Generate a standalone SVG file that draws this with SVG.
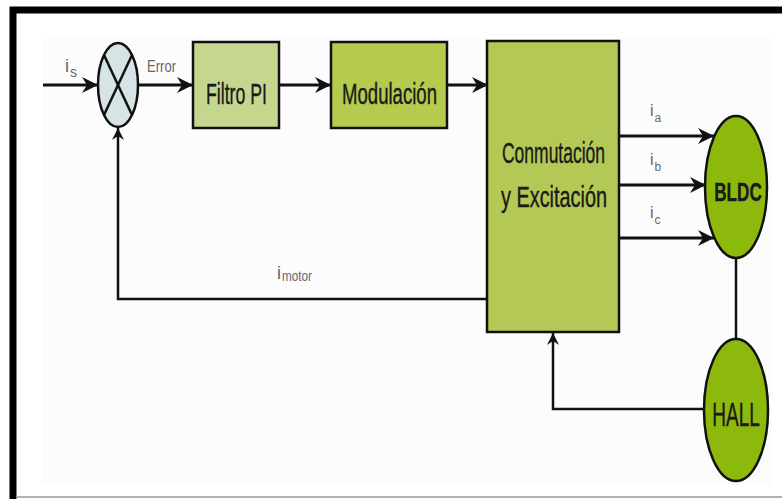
<svg xmlns="http://www.w3.org/2000/svg" width="782" height="499" viewBox="0 0 782 499">
<style>
.box{stroke:#111;stroke-width:2.5}
.line{fill:none;stroke:#111;stroke-width:3}
.fb{fill:none;stroke:#111;stroke-width:2.5}
.t{font-family:"Liberation Sans",Arial,sans-serif;fill:#1a1a1a;stroke:#1a1a1a;stroke-width:0.4}
.lbl{font-family:"Liberation Sans",Arial,sans-serif;fill:#666}
</style>
<defs>
<marker id="arr" viewBox="0 0 16 16" refX="16" refY="8" markerWidth="16" markerHeight="16" markerUnits="userSpaceOnUse" orient="auto">
<path d="M0,0 L16,8 L0,16 L5,8 z" fill="#111"/>
</marker>
<marker id="arrs" viewBox="0 0 12 12" refX="12" refY="6" markerWidth="12" markerHeight="12" markerUnits="userSpaceOnUse" orient="auto">
<path d="M0,0 L12,6 L0,12 L4,6 z" fill="#111"/>
</marker>
</defs>
<rect width="782" height="499" fill="#fff"/>
<rect x="42" y="38" width="730" height="447" fill="#fcfcfc"/>
<g id="frame">
<path d="M13,499 V10 H782" fill="none" stroke="#000" stroke-width="7"/>
<line x1="16" y1="497" x2="782" y2="497" stroke="#999" stroke-width="1.5"/>
</g>
<g id="connectors">
<line class="line" x1="43" y1="85" x2="98" y2="85" marker-end="url(#arr)"/>
<line class="line" x1="138" y1="85" x2="193" y2="85" marker-end="url(#arr)"/>
<line class="line" x1="279" y1="85" x2="331" y2="85" marker-end="url(#arr)"/>
<line class="line" x1="447" y1="85" x2="488" y2="85" marker-end="url(#arr)"/>
<line class="line" x1="619" y1="136" x2="714" y2="136" marker-end="url(#arr)"/>
<line class="line" x1="619" y1="185" x2="706" y2="185" marker-end="url(#arr)"/>
<line class="line" x1="619" y1="238" x2="714" y2="238" marker-end="url(#arr)"/>
<polyline class="fb" points="487,299 118,299 118,128" marker-end="url(#arrs)"/>
<line class="fb" x1="736" y1="258" x2="736" y2="340"/>
<polyline class="fb" points="704,409 553,409 553,333" marker-end="url(#arrs)"/>
</g>
<g id="labels">
<text class="lbl" x="65" y="72" font-size="18">i<tspan font-size="14" dx="1" dy="5">s</tspan></text>
<text class="lbl" x="147" y="72" font-size="17" textLength="29" lengthAdjust="spacingAndGlyphs">Error</text>
<text class="lbl" x="277" y="279" font-size="18">i<tspan font-size="14" dx="1" dy="2" textLength="30" lengthAdjust="spacingAndGlyphs">motor</tspan></text>
<text class="lbl" x="650" y="116" font-size="16">i<tspan font-size="12" dx="1" dy="6">a</tspan></text>
<text class="lbl" x="650" y="165" font-size="16">i<tspan font-size="12" dx="1" dy="6">b</tspan></text>
<text class="lbl" x="650" y="218" font-size="16">i<tspan font-size="12" dx="1" dy="6">c</tspan></text>
</g>
<g id="sum">
<ellipse cx="118" cy="85" rx="20" ry="42" fill="#d6e4e6" stroke="#111" stroke-width="2.5"/>
<line x1="104" y1="55" x2="132" y2="115" stroke="#111" stroke-width="2.5"/>
<line x1="132" y1="55" x2="104" y2="115" stroke="#111" stroke-width="2.5"/>
</g>
<g id="filtro">
<rect class="box" x="193" y="42" width="86" height="86" fill="#c5d78f"/>
<text class="t" x="206" y="104" font-size="30" textLength="61" lengthAdjust="spacingAndGlyphs">Filtro PI</text>
</g>
<g id="modulacion">
<rect class="box" x="331" y="42" width="116" height="86" fill="#b5cb4e"/>
<text class="t" x="342" y="104" font-size="30" textLength="95" lengthAdjust="spacingAndGlyphs">Modulación</text>
</g>
<g id="conmutacion">
<rect class="box" x="487" y="41" width="132" height="291" fill="#b4c955"/>
<text class="t" x="502" y="163" font-size="29" textLength="103" lengthAdjust="spacingAndGlyphs">Conmutación</text>
<text class="t" x="501" y="207" font-size="29" textLength="106" lengthAdjust="spacingAndGlyphs">y Excitación</text>
</g>
<g id="bldc">
<ellipse cx="736" cy="187" rx="31" ry="71" fill="#8cb90c" stroke="#111" stroke-width="2.5"/>
<text class="t" transform="translate(738,201) scale(0.66,1)" x="0" y="0" font-size="26" font-weight="bold" text-anchor="middle">BLDC</text>
</g>
<g id="hall">
<ellipse cx="736" cy="410" rx="32" ry="71" fill="#8cb90c" stroke="#111" stroke-width="2.5"/>
<text class="t" transform="translate(736,426) scale(0.56,1)" x="0" y="0" font-size="34" text-anchor="middle">HALL</text>
</g>
</svg>
